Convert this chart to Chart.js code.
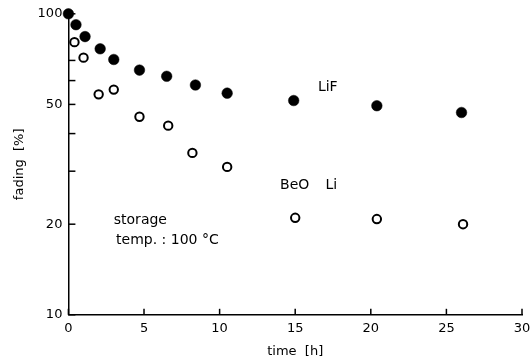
<!DOCTYPE html>
<html>
<head>
<meta charset="utf-8">
<script src="https://cdn.jsdelivr.net/npm/chart.js@4"></script>
<style>
  html, body { margin: 0; padding: 0; background: #fff; }
  #wrap { width: 530px; height: 360px; }
</style>
</head>
<body>
<div id="wrap"><canvas id="myChart" width="530" height="360"></canvas></div>
<script>
// data
let lifTime   = [0, 0.5, 1.1, 2.1, 3.0, 4.7, 6.5, 8.4, 10.5, 14.9, 20.4, 26.0];
let lifFading = [100, 92, 84, 76.5, 70.5, 65, 62, 58, 54.5, 51.5, 49.5, 47];
let beoTime   = [0.4, 1.0, 2.0, 3.0, 4.7, 6.6, 8.2, 10.5, 15.0, 20.4, 26.1];
let beoFading = [80.5, 71.5, 54, 56, 45.5, 42.5, 34.5, 31, 21, 20.8, 20];
let xTicks = [0, 5, 10, 15, 20, 25, 30];
let yTicks = [10, 20, 50, 100];
let yMinor = [30, 40, 60, 70];

let fontName = "'DejaVu Sans', sans-serif";

function toPoints(xs, ys) {
    return xs.map(function (x, i) { return { x: x, y: ys[i] }; });
}

/* inner tick marks + text labels */
let extras = {
    id: "extras",
    afterDraw: function (chart) {
        let c = chart.ctx;
        let xs = chart.scales.x;
        let ys = chart.scales.y;
        let area = chart.chartArea;
        c.save();
        c.strokeStyle = "#000";
        c.lineWidth = 1.5;
        xTicks.forEach(function (v) {
            let px = xs.getPixelForValue(v);
            c.beginPath();
            c.moveTo(px, area.bottom);
            c.lineTo(px, area.bottom - 6);
            c.stroke();
        });
        yTicks.concat(yMinor).forEach(function (v) {
            let py = ys.getPixelForValue(v);
            c.beginPath();
            c.moveTo(area.left, py);
            c.lineTo(area.left + 7, py);
            c.stroke();
        });

        c.fillStyle = "#000";
        c.font = "14px " + fontName;
        c.textAlign = "left";
        c.textBaseline = "middle";
        c.fillText("LiF", xs.getPixelForValue(16.5), ys.getPixelForValue(57.1));
        c.fillText("BeO", xs.getPixelForValue(14.0), ys.getPixelForValue(27.0));
        c.fillText("Li", xs.getPixelForValue(17.0), ys.getPixelForValue(27.0));
        c.fillText("storage", xs.getPixelForValue(3.0), ys.getPixelForValue(20.6));
        c.fillText("temp. : 100 \u00b0C", xs.getPixelForValue(3.15), ys.getPixelForValue(17.7));
        c.restore();
    }
};

let ctx = document.getElementById("myChart").getContext("2d");
let myChart = new Chart(ctx, {
    type: "scatter",
    data: {
        datasets: [
            {
                label: "LiF",
                data: toPoints(lifTime, lifFading),
                pointStyle: "circle",
                pointRadius: 5.3,
                backgroundColor: "#000",
                borderColor: "#000",
                borderWidth: 0.5,
                clip: false
            },
            {
                label: "BeO Li",
                data: toPoints(beoTime, beoFading),
                pointStyle: "circle",
                pointRadius: 4.2,
                backgroundColor: "#fff",
                borderColor: "#000",
                borderWidth: 2,
                clip: false
            }
        ]
    },
    options: {
        responsive: false,
        animation: false,
        layout: { padding: { top: 13, right: 0, left: 12, bottom: 1 } },
        plugins: {
            legend: { display: false },
            tooltip: { enabled: false }
        },
        scales: {
            x: {
                type: "linear",
                min: 0,
                max: 30,
                grid: { display: false, drawTicks: false },
                border: { display: true, color: "#000", width: 1.5 },
                afterBuildTicks: function (axis) {
                    axis.ticks = xTicks.map(function (v) { return { value: v }; });
                },
                afterFit: function (axis) {
                    axis.paddingRight = 8;
                },
                ticks: {
                    color: "#000",
                    padding: 6,
                    font: { family: fontName, size: 13 }
                },
                title: {
                    display: true,
                    text: "time  [h]",
                    color: "#000",
                    padding: { top: 1, bottom: 0 },
                    font: { family: fontName, size: 13 }
                }
            },
            y: {
                type: "logarithmic",
                min: 10,
                max: 100,
                grid: { display: false, drawTicks: false },
                border: { display: true, color: "#000", width: 1.5 },
                afterBuildTicks: function (axis) {
                    axis.ticks = yTicks.map(function (v) { return { value: v }; });
                },
                ticks: {
                    color: "#000",
                    padding: 6,
                    font: { family: fontName, size: 13 },
                    callback: function (v) { return String(v); }
                },
                title: {
                    display: true,
                    text: "fading  [%]",
                    color: "#000",
                    padding: { top: 0, bottom: 4 },
                    font: { family: fontName, size: 13 }
                }
            }
        }
    },
    plugins: [extras]
});
</script>
</body>
</html>
